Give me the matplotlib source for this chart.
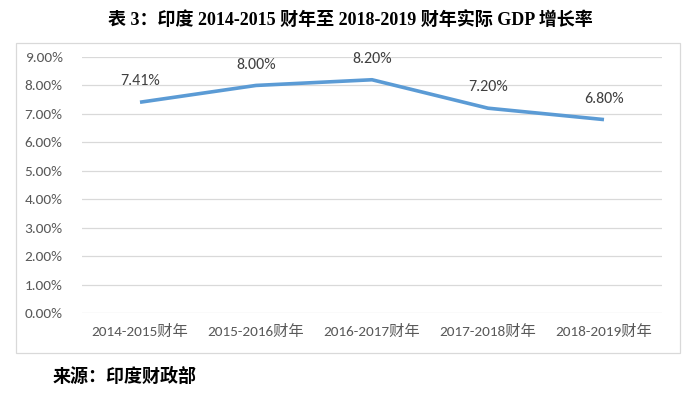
import matplotlib
matplotlib.use("Agg")
import matplotlib.pyplot as plt
from matplotlib.patches import Rectangle
from matplotlib.ticker import PercentFormatter

# data
years = ["2014-2015财年", "2015-2016财年", "2016-2017财年", "2017-2018财年", "2018-2019财年"]
growth = [7.41, 8.00, 8.20, 7.20, 6.80]
value_labels = ["7.41%", "8.00%", "8.20%", "7.20%", "6.80%"]

plt.rcParams['font.family'] = ['Carlito', 'Liberation Sans', 'Noto Sans CJK SC', 'DejaVu Sans']
serif_cjk = ['Liberation Serif', 'Noto Sans CJK SC', 'DejaVu Sans']

fig = plt.figure(figsize=(7, 3.97), dpi=100)
ax = fig.add_axes([82 / 700, 84 / 397, 580 / 700, 256 / 397])

# frame round the chart area
fig.patches.append(Rectangle((16 / 700, 44 / 397), 664 / 700, 310 / 397,
                             transform=fig.transFigure, fill=False,
                             edgecolor='#d9d9d9', linewidth=0.9))

x = list(range(len(years)))
ax.plot(x, growth, color='#5b9bd5', linewidth=2.6, solid_capstyle='butt')

for xi, yi, lab in zip(x, growth, value_labels):
    ax.annotate(lab, (xi, yi), xytext=(0, 15), textcoords='offset points',
                ha='center', va='center', fontsize=11.5, color='#404040')

ax.set_xlim(-0.5, len(years) - 0.5)
ax.set_ylim(0, 9)
ax.set_yticks(range(0, 10))
ax.yaxis.set_major_formatter(PercentFormatter(decimals=2))
ax.set_xticks(x)
ax.set_xticklabels(years)
ax.grid(axis='y', color='#d9d9d9', linewidth=0.9)
ax.set_axisbelow(True)
for s in ax.spines.values():
    s.set_visible(False)
ax.tick_params(length=0, labelsize=11, colors='#595959')
ax.tick_params(axis='y', pad=14)
ax.tick_params(axis='x', pad=8)

fig.text(0.5, 1 - 20 / 397, "表 3：印度 2014-2015 财年至 2018-2019 财年实际 GDP 增长率",
         ha='center', va='center', fontsize=13, fontweight='bold', family=serif_cjk)
fig.text(53 / 700, 1 - 377 / 397, "来源：印度财政部", ha='left', va='center',
         fontsize=13, fontweight='bold', family=serif_cjk)

fig.savefig("out.png", dpi=100)
